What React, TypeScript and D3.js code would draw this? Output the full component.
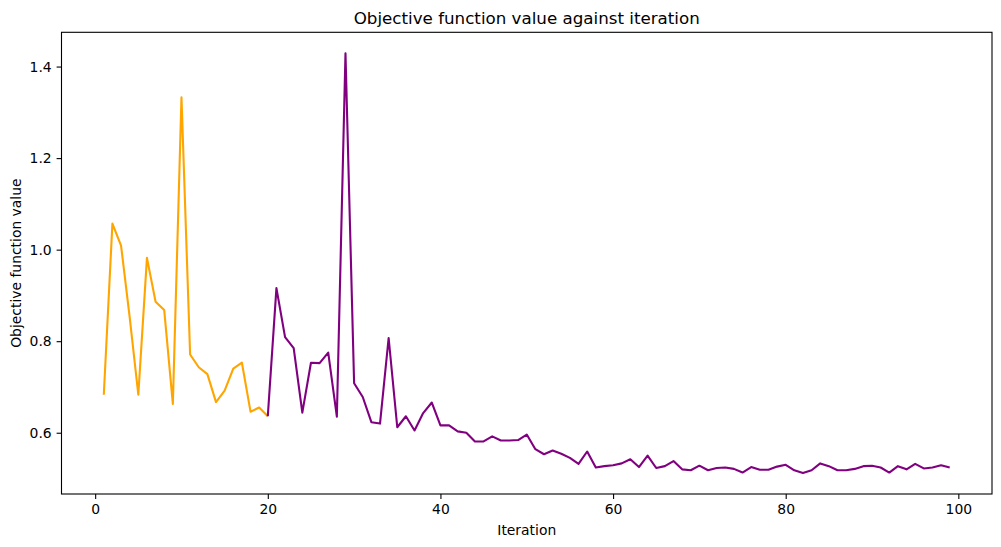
import React, { useRef, useEffect } from "react";
import * as d3 from "d3";

// iterations 1..20 (orange) and 20..99 (purple)
const orangeStart = 1;
const orangeValues = [
  0.683, 1.057, 1.009, 0.852, 0.683, 0.982, 0.886, 0.868, 0.663, 1.333,
  0.771, 0.743, 0.728, 0.667, 0.692, 0.74, 0.753, 0.646, 0.655, 0.636,
];
const purpleStart = 20;
const purpleValues = [
  0.636, 0.916, 0.809, 0.785, 0.644, 0.753, 0.752, 0.775, 0.635, 1.429,
  0.708, 0.678, 0.623, 0.62, 0.807, 0.612, 0.636, 0.605, 0.643, 0.666,
  0.616, 0.616, 0.603, 0.6, 0.581, 0.581, 0.592, 0.583, 0.583, 0.584,
  0.596, 0.564, 0.553, 0.561, 0.554, 0.545, 0.532, 0.559, 0.524, 0.527,
  0.529, 0.533, 0.542, 0.525, 0.55, 0.523, 0.527, 0.538, 0.52, 0.518,
  0.528, 0.518, 0.523, 0.524, 0.521, 0.513, 0.525, 0.519, 0.519, 0.526,
  0.53, 0.518, 0.512, 0.518, 0.533, 0.527, 0.518, 0.518, 0.521, 0.527,
  0.528, 0.524, 0.513, 0.527, 0.52, 0.532, 0.522, 0.524, 0.529, 0.524,
];
const xTicks = [0, 20, 40, 60, 80, 100];
const yTicks = [0.6, 0.8, 1.0, 1.2, 1.4];

const App = () => {
  const ref = useRef<SVGSVGElement>(null);
  const width = 1001;
  const height = 547;

  useEffect(() => {
    const svg = d3.select(ref.current);
    svg.selectAll("*").remove();

    const margin = { top: 32.3, right: 9, bottom: 53, left: 61.5 };
    const font = "DejaVu Sans, sans-serif";

    const orange = orangeValues.map((v, i) => ({ x: orangeStart + i, y: v }));
    const purple = purpleValues.map((v, i) => ({ x: purpleStart + i, y: v }));
    const all = orange.concat(purple);

    const [x0, x1] = d3.extent(all, (d) => d.x) as [number, number];
    const [y0, y1] = d3.extent(all, (d) => d.y) as [number, number];
    const xPad = (x1 - x0) * 0.05;
    const yPad = (y1 - y0) * 0.05;

    const x = d3
      .scaleLinear()
      .domain([x0 - xPad, x1 + xPad])
      .range([margin.left, width - margin.right]);
    const y = d3
      .scaleLinear()
      .domain([y0 - yPad, y1 + yPad])
      .range([height - margin.bottom, margin.top]);

    svg.attr("width", width).attr("height", height);
    svg.append("rect").attr("width", width).attr("height", height).attr("fill", "#fff");

    const line = d3
      .line<{ x: number; y: number }>()
      .x((d) => x(d.x))
      .y((d) => y(d.y));

    svg
      .append("path")
      .datum(orange)
      .attr("d", line)
      .attr("fill", "none")
      .attr("stroke", "orange")
      .attr("stroke-width", 2.1)
      .attr("stroke-linejoin", "round");

    svg
      .append("path")
      .datum(purple)
      .attr("d", line)
      .attr("fill", "none")
      .attr("stroke", "purple")
      .attr("stroke-width", 2.1)
      .attr("stroke-linejoin", "round");

    const xAxis = svg
      .append("g")
      .attr("transform", `translate(0,${height - margin.bottom})`)
      .call(
        d3
          .axisBottom(x)
          .tickValues(xTicks)
          .tickFormat(d3.format("d"))
          .tickSize(4.9)
          .tickPadding(4.9)
      );
    const yAxis = svg
      .append("g")
      .attr("transform", `translate(${margin.left},0)`)
      .call(
        d3
          .axisLeft(y)
          .tickValues(yTicks)
          .tickFormat(d3.format(".1f"))
          .tickSize(4.9)
          .tickPadding(4.9)
      );
    [xAxis, yAxis].forEach((a) => {
      a.select(".domain").remove();
      a.selectAll("line").attr("stroke", "#000").attr("stroke-width", 1.1);
      a.selectAll("text")
        .attr("fill", "#000")
        .style("font-family", font)
        .style("font-size", "13.9px");
    });

    // frame
    svg
      .append("rect")
      .attr("x", margin.left)
      .attr("y", margin.top)
      .attr("width", width - margin.left - margin.right)
      .attr("height", height - margin.top - margin.bottom)
      .attr("fill", "none")
      .attr("stroke", "#000")
      .attr("stroke-width", 1.1);

    const cx = (margin.left + width - margin.right) / 2;
    const cy = (margin.top + height - margin.bottom) / 2;

    svg
      .append("text")
      .attr("x", cx)
      .attr("y", 24)
      .attr("text-anchor", "middle")
      .style("font-family", font)
      .style("font-size", "16.7px")
      .text("Objective function value against iteration");

    svg
      .append("text")
      .attr("x", cx)
      .attr("y", 535)
      .attr("text-anchor", "middle")
      .style("font-family", font)
      .style("font-size", "13.9px")
      .text("Iteration");

    svg
      .append("text")
      .attr("transform", `translate(21,${cy}) rotate(-90)`)
      .attr("text-anchor", "middle")
      .style("font-family", font)
      .style("font-size", "13.9px")
      .text("Objective function value");
  }, []);

  return (
    <svg
      ref={ref}
      style={{ position: "absolute", left: 0, top: 0, display: "block" }}
    ></svg>
  );
};

export default App;
